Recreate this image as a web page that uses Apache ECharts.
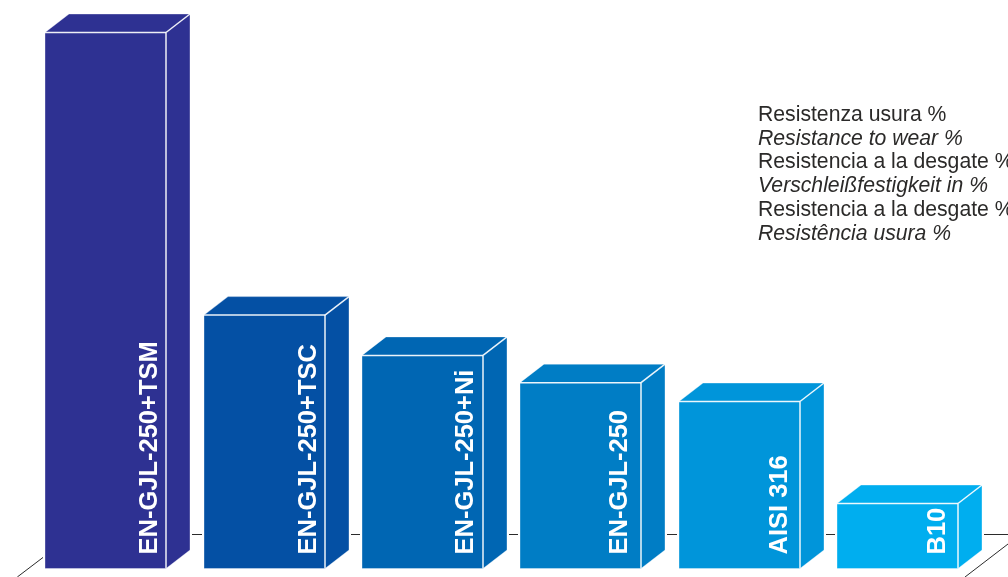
<!DOCTYPE html>
<html>
<head>
<meta charset="utf-8">
<style>html,body{margin:0;padding:0;background:#fff;overflow:hidden}#chart{width:1008px;height:577px}</style>
<script src="https://cdn.jsdelivr.net/npm/echarts@6/dist/echarts.min.js"></script>
</head>
<body>
<div id="chart"></div>
<script>
// Wear resistance by material, with B10 as the 100 % reference
const materials = ['EN-GJL-250+TSM', 'EN-GJL-250+TSC', 'EN-GJL-250+Ni', 'EN-GJL-250', 'AISI 316', 'B10'];
const wearResistance = [825, 390, 328, 286, 257, 100];
const barColors = ['#2e3192', '#0450a4', '#0066b3', '#007dc5', '#0095da', '#00aeef'];
const captionLines = [
  'Resistenza usura %',
  'Resistance to wear %',
  'Resistencia a la desgate %',
  'Verschleißfestigkeit in %',
  'Resistencia a la desgate %',
  'Resistência usura %'
];

const DEPTH_X = 24;
const DEPTH_Y = 18.5;
const BAR_WIDTH = 121;
// Distance of each rotated name from the right edge of its front face
const LABEL_INSETS = [16, 16, 17.5, 21, 20, 20];

// Draws one extruded box: halo, top and side faces, front face, highlights, rotated name
function renderBox(params, api) {
  const i = api.value(0);
  const top = api.coord([i, api.value(1)]);
  const base = api.coord([i, 0]);
  const l = Math.round(top[0] - BAR_WIDTH / 2);
  const r = l + BAR_WIDTH;
  const t = top[1];
  const b = base[1];
  const color = barColors[i];
  const outline = [[l, b], [l, t], [l + DEPTH_X, t - DEPTH_Y], [r + DEPTH_X, t - DEPTH_Y],
                   [r + DEPTH_X, b - DEPTH_Y], [r, b]];
  const poly = (points, style) => ({ type: 'polygon', shape: { points }, style });
  const line = (x1, y1, x2, y2) => ({
    type: 'line',
    shape: { x1, y1, x2, y2 },
    style: { stroke: '#ffffff', lineWidth: 1.5, opacity: 0.92 }
  });
  return {
    type: 'group',
    children: [
      poly(outline, { fill: '#ffffff', stroke: '#ffffff', lineWidth: 4 }),
      poly(outline, { fill: color, stroke: 'rgba(255,255,255,0.35)', lineWidth: 1 }),
      line(l, t, r, t),
      line(r, t, r, b),
      line(r, t, r + DEPTH_X, t - DEPTH_Y),
      {
        type: 'text',
        x: r - LABEL_INSETS[i],
        y: b - 14,
        rotation: Math.PI / 2,
        style: {
          text: materials[i],
          fill: '#ffffff',
          fontFamily: '"Liberation Sans", Arial, sans-serif',
          fontWeight: 'bold',
          fontSize: 25.5,
          align: 'left',
          verticalAlign: 'middle'
        }
      }
    ]
  };
}

const floorStroke = { stroke: '#2b2b2b', lineWidth: 1 };
const captionGraphics = captionLines.map((text, i) => ({
  type: 'text',
  x: 758,
  y: 115 + i * 23.8,
  style: {
    text,
    fill: '#2b2a29',
    fontFamily: '"Liberation Sans", Arial, sans-serif',
    fontStyle: i % 2 ? 'italic' : 'normal',
    fontSize: 21.2,
    align: 'left',
    verticalAlign: 'middle'
  }
}));

const chart = echarts.init(document.getElementById('chart'), null, { renderer: 'canvas' });
chart.setOption({
  animation: false,
  backgroundColor: '#ffffff',
  grid: { left: 26.65, width: 949.8, top: 0, height: 568.5, containLabel: false },
  xAxis: { type: 'category', data: materials, show: false },
  yAxis: { type: 'value', min: 0, max: 875, show: false },
  graphic: [
    { type: 'line', z: 0, shape: { x1: 170, y1: 534.5, x2: 1008, y2: 534.5 }, style: floorStroke },
    { type: 'line', z: 0, shape: { x1: 44, y1: 556.7, x2: 17.3, y2: 577 }, style: floorStroke },
    { type: 'line', z: 0, shape: { x1: 1008, y1: 544, x2: 965, y2: 577 }, style: floorStroke },
    ...captionGraphics
  ],
  series: [{
    type: 'custom',
    coordinateSystem: 'cartesian2d',
    clip: false,
    encode: { x: 0, y: 1 },
    data: wearResistance.map((v, i) => [i, v]),
    renderItem: renderBox
  }]
});
</script>
</body>
</html>
